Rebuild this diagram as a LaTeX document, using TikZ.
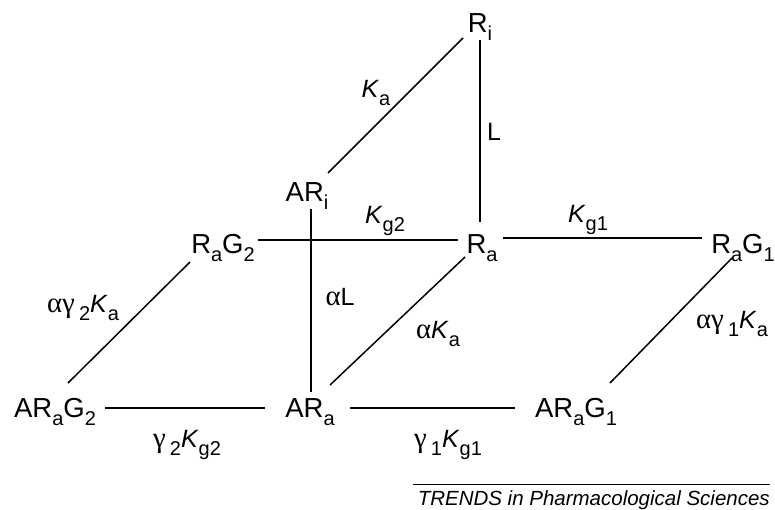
\documentclass[tikz,border=0pt]{standalone}
\usepackage{fontspec}
\setmainfont{Liberation Sans}
\newfontfamily\grk{Liberation Serif}[Scale=1.15]
\usetikzlibrary{calc}
\newcommand\sbx[1]{\raisebox{-8pt}{\fontsize{20}{20}\selectfont #1}}
\newcommand\KK{\textit{K}}
\newcommand\gal{{\grk α}}
\newcommand\ggm{{\grk γ}}
\begin{document}
\begin{tikzpicture}[x=1pt,y=-1pt,
  st/.style={anchor=base,inner sep=0pt,font=\fontsize{27.5}{27.5}\selectfont},
  lb/.style={anchor=base,inner sep=0pt,font=\fontsize{25}{25}\selectfont},
  ln/.style={line width=1.5pt}]
\path[use as bounding box] (0,0) rectangle (775,509);
% species
\node[st] (Ri)    at (480,32)  {R\sbx{i}};
\node[st] (ARi)   at (307,201) {AR\sbx{i}};
\node[st] (RaG2)  at (223,253) {R\sbx{a}G\sbx{2}};
\node[st] (Ra)    at (482,253) {R\sbx{a}};
\node[st] (RaG1)  at (743,253) {R\sbx{a}G\sbx{1}};
\node[st] (ARaG2) at (55,417)  {AR\sbx{a}G\sbx{2}};
\node[st] (ARa)   at (310,417) {AR\sbx{a}};
\node[st] (ARaG1) at (576,417) {AR\sbx{a}G\sbx{1}};
% connectors
\draw[ln] ($(Ri.base)+(-17,6)$) -- ($(ARi.base)+(21,-28)$);
\draw[ln] ($(Ri.base)+(0,8)$) -- ($(Ra.base)+(-2,-31)$);
\draw[ln] ($(RaG2.base)+(35,-13)$) -- ($(Ra.base)+(-24,-13)$);
\draw[ln] ($(Ra.base)+(21,-15)$) -- ($(RaG1.base)+(-41,-15)$);
\draw[ln] ($(ARi.base)+(4,8)$) -- ($(ARa.base)+(1,-25)$);
\draw[ln] ($(RaG2.base)+(-33,9)$) -- ($(ARaG2.base)+(13,-34)$);
\draw[ln] ($(Ra.base)+(-17,4)$) -- ($(ARa.base)+(20,-32)$);
\draw[ln] ($(RaG1.base)+(-11,5)$) -- ($(ARaG1.base)+(34,-34)$);
\draw[ln] ($(ARaG2.base)+(50,-9)$) -- ($(ARa.base)+(-45,-9)$);
\draw[ln] ($(ARa.base)+(40,-9)$) -- ($(ARaG1.base)+(-61,-9)$);
% labels
\node[lb] (lKa)   at (376,97)  {\KK\sbx{a}};
\node[lb] (lL)    at (494,140) {L};
\node[lb] (lKg2)  at (385,223) {\KK\sbx{g2}};
\node[lb] (lKg1)  at (588,222) {\KK\sbx{g1}};
\node[lb] (lag2)  at (83,312)  {\gal\ggm\,\sbx{2}\KK\sbx{a}};
\node[lb] (laL)   at (340,305) {\gal L};
\node[lb] (laKa)  at (438,338) {\gal\KK\sbx{a}};
\node[lb] (lag1)  at (732,328) {\gal\ggm\,\sbx{1}\KK\sbx{a}};
\node[lb] (lg2)   at (187,447) {\ggm\,\sbx{2}\KK\sbx{g2}};
\node[lb] (lg1)   at (448,447) {\ggm\,\sbx{1}\KK\sbx{g1}};
% footer
\coordinate (r1) at (413,484);
\coordinate (r2) at (770,484);
\draw[line width=1pt] (r1) -- (r2);
\node[anchor=base east,inner sep=0pt,font=\fontsize{20.5}{20.5}\selectfont\itshape] (tr) at (770,505) {TRENDS in Pharmacological Sciences};
\end{tikzpicture}
\end{document}
